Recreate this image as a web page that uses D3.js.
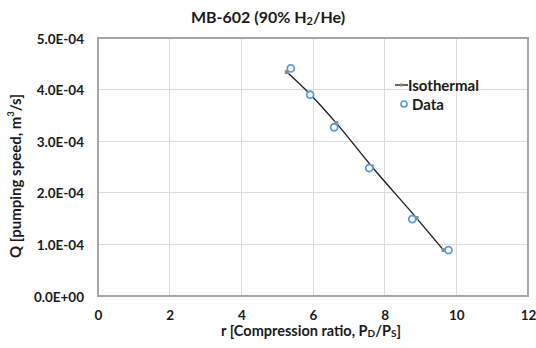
<!DOCTYPE html>
<html><head><meta charset="utf-8">
<script src="https://cdn.jsdelivr.net/npm/d3@7"></script>
<style>
body{margin:0;background:#fff;}
text{font-family:Lato,"Open Sans",sans-serif;font-weight:bold;fill:#1a1a1a;}
</style></head>
<body><svg id="c" width="536" height="348"></svg>
<script>
const xTicks = [0,2,4,6,8,10,12];
const yTicks = [0,1e-4,2e-4,3e-4,4e-4,5e-4];
const yTickLabels = ["0.0E+00","1.0E-04","2.0E-04","3.0E-04","4.0E-04","5.0E-04"];
const dataR = [5.38,5.92,6.59,7.57,8.77,9.78];
const dataQ = [4.41e-4,3.90e-4,3.27e-4,2.48e-4,1.49e-4,0.89e-4];
const isoR = [5.27,5.92,6.65,7.64,8.89,9.64];
const isoQ = [4.34e-4,3.91e-4,3.35e-4,2.51e-4,1.51e-4,0.89e-4];

const svg = d3.select("#c");
const L=98,R=528,T=38,B=296;
const x = d3.scaleLinear().domain([0,12]).range([L,R]);
const y = d3.scaleLinear().domain([0,5e-4]).range([B,T]);

// gridlines
svg.append("g").selectAll("line.v").data(xTicks.slice(1,-1)).join("line")
 .attr("x1",d=>x(d)).attr("x2",d=>x(d)).attr("y1",T).attr("y2",B)
 .attr("stroke","#dcdcdc").attr("stroke-width",1).attr("shape-rendering","crispEdges");
svg.append("g").selectAll("line.h").data(yTicks.slice(1,-1)).join("line")
 .attr("y1",d=>y(d)).attr("y2",d=>y(d)).attr("x1",L).attr("x2",R)
 .attr("stroke","#dcdcdc").attr("stroke-width",1).attr("shape-rendering","crispEdges");
// border
svg.append("rect").attr("x",L).attr("y",T).attr("width",R-L).attr("height",B-T)
 .attr("fill","none").attr("stroke","#a6a6a6").attr("stroke-width",1.5).attr("shape-rendering","crispEdges");

// axes labels
const xAxis = d3.axisBottom(x).tickValues(xTicks).tickSize(0).tickPadding(0).tickFormat(d3.format("d"));
const gx = svg.append("g").attr("transform",`translate(0,${B})`).call(xAxis);
gx.select(".domain").remove();
gx.selectAll("text").attr("dy",null).attr("y",19).attr("dominant-baseline","central").style("font-size","13.5px").style("fill","#1a1a1a").style("font-family","Lato").style("font-weight","bold");
const yAxis = d3.axisLeft(y).tickValues(yTicks).tickSize(0).tickPadding(0).tickFormat((d,i)=>yTickLabels[i]);
const gy = svg.append("g").attr("transform",`translate(${L-14},0)`).call(yAxis);
gy.select(".domain").remove();
gy.selectAll("text").attr("dy",null).attr("x",0).attr("dominant-baseline","central").style("font-size","13.5px").style("fill","#1a1a1a").style("font-family","Lato").style("font-weight","bold");

// title
const title = svg.append("text").attr("x",268).attr("y",16).attr("text-anchor","middle")
 .attr("dominant-baseline","central").style("font-size","16px");
title.append("tspan").text("MB-602 (90% H");
title.append("tspan").text("2").attr("dy",4).style("font-size","11px");
title.append("tspan").text("/He)").attr("dy",-4);

// axis titles
const xt = svg.append("text").attr("x",311).attr("y",330).attr("text-anchor","middle")
 .attr("dominant-baseline","central").style("font-size","14.5px");
xt.append("tspan").text("r [Compression ratio, P");
xt.append("tspan").text("D").attr("dy",3).style("font-size","10px");
xt.append("tspan").text("/P").attr("dy",-3);
xt.append("tspan").text("S").attr("dy",3).style("font-size","10px");
xt.append("tspan").text("]").attr("dy",-3);

const yt = svg.append("text").attr("transform","translate(15,176) rotate(-90)").attr("text-anchor","middle")
 .attr("dominant-baseline","central").style("font-size","15px");
yt.append("tspan").text("Q [pumping speed, m");
yt.append("tspan").text("3").attr("dy",-5).style("font-size","9px");
yt.append("tspan").text("/s]").attr("dy",5);

// isothermal line
const iso = isoR.map((r,i)=>[r,isoQ[i]]);
svg.append("path").datum(iso)
 .attr("d",d3.line().x(d=>x(d[0])).y(d=>y(d[1])).curve(d3.curveMonotoneX))
 .attr("fill","none").attr("stroke","#222").attr("stroke-width",1.4);
svg.append("g").selectAll("rect").data(iso).join("rect")
 .attr("x",d=>x(d[0])-2).attr("y",d=>y(d[1])-2).attr("width",4).attr("height",4)
 .attr("fill","#8c8c8c");

// data
const pts = dataR.map((r,i)=>[r,dataQ[i]]);
svg.append("g").selectAll("circle").data(pts).join("circle")
 .attr("cx",d=>x(d[0])).attr("cy",d=>y(d[1])).attr("r",3.5)
 .attr("fill","#fff").attr("stroke","#5b9bd5").attr("stroke-width",1.8);

// legend
const lg = svg.append("g");
lg.append("line").attr("x1",395).attr("x2",408).attr("y1",85).attr("y2",85).attr("stroke","#222").attr("stroke-width",1.4);
lg.append("rect").attr("x",400).attr("y",83.5).attr("width",3).attr("height",3).attr("fill","#8c8c8c");
lg.append("text").attr("x",408).attr("y",85).attr("dominant-baseline","central").style("font-size","15px").text("Isothermal");
lg.append("circle").attr("cx",404).attr("cy",104).attr("r",3).attr("fill","#fff").attr("stroke","#5b9bd5").attr("stroke-width",1.7);
lg.append("text").attr("x",412).attr("y",104).attr("dominant-baseline","central").style("font-size","15px").text("Data");
</script></body></html>
